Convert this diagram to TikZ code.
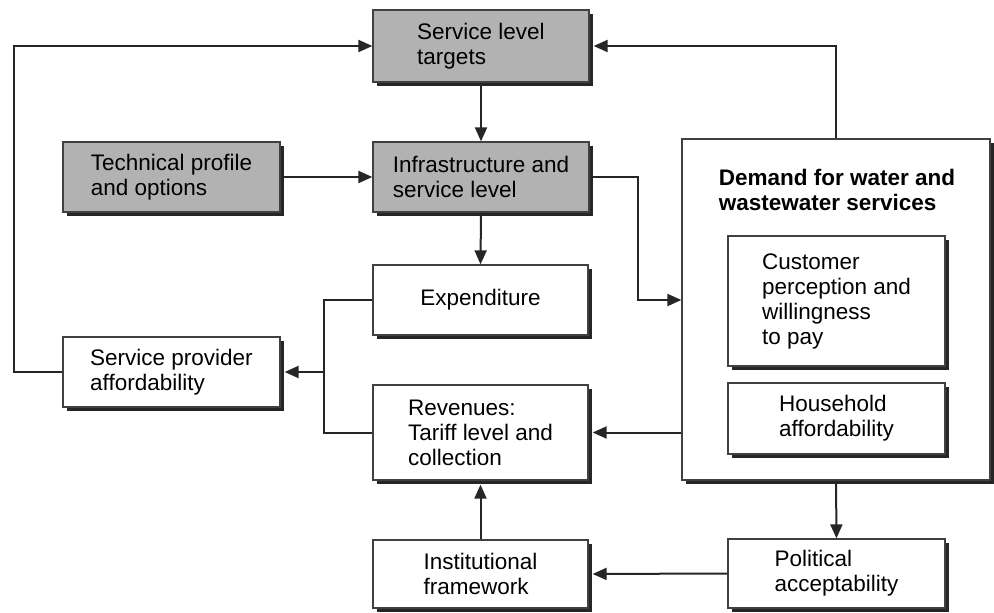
\documentclass[tikz,border=0pt]{standalone}
\usepackage{fontspec}
\setmainfont{Liberation Sans}
\usetikzlibrary{shadows,arrows.meta,calc}
\tikzset{
  box/.style={draw=black!75, line width=1.3pt, fill=white, align=left, inner sep=0pt,
    font=\fontsize{22.5}{25}\selectfont,
    copy shadow={shadow xshift=4pt, shadow yshift=-4pt, fill=black!85, draw=none}},
  graybox/.style={box, fill=black!30},
  conn/.style={draw=black!85, line width=2pt},
  arr/.style={conn, -{Triangle[length=14pt,width=12pt]}},
}
\begin{document}
\begin{tikzpicture}[x=1pt,y=-1pt]
\useasboundingbox[fill=white] (0,0) rectangle (994,613);
% grey boxes
\node[graybox, minimum width=216pt, minimum height=72pt] (targets) at (481,46) {Service level\\targets};
\node[graybox, minimum width=217pt, minimum height=70pt] (tech) at (171.5,177) {Technical profile\\and options};
\node[graybox, minimum width=216pt, minimum height=70pt] (infra) at (481,177) {Infrastructure and\\service level};
% white boxes
\node[box, minimum width=215pt, minimum height=70pt] (exp) at (480.5,300) {Expenditure};
\node[box, minimum width=217pt, minimum height=70pt] (spa) at (171.5,372) {Service provider\\affordability};
\node[box, minimum width=215pt, minimum height=95pt] (rev) at (480.5,432.5) {Revenues:\\Tariff level and\\collection};
\node[box, minimum width=215pt, minimum height=68pt] (inst) at (480.5,574) {Institutional\\framework};
% demand group
\node[box, minimum width=308pt, minimum height=341pt] (demand) at (836,309.5) {};
\node[align=left, inner sep=0pt, font=\fontsize{22.5}{25}\selectfont\bfseries] (dtitle) at (837,190) {Demand for water and\\wastewater services};
\node[box, minimum width=217pt, minimum height=130pt] (cust) at (836.5,301) {Customer\\perception and\\willingness\\to pay};
\node[box, minimum width=217pt, minimum height=71pt] (house) at (836.5,418.5) {Household\\affordability};
\node[box, minimum width=217pt, minimum height=69pt] (pol) at (836.5,573.5) {Political\\acceptability};
% connectors
\draw[arr] (spa.west) -- ++(-48,0) |- (targets.west);
\draw[arr, shorten >=4pt] (demand.north) |- (targets.east);
\draw[arr] (targets.south) -- (infra.north);
\draw[arr] (tech.east) -- (infra.west);
\draw[arr] (infra.east) -- ++(48,0) |- (demand.west |- exp.west);
\draw[arr] (infra.south) -- (exp.north);
\draw[conn] (exp.west) -- ++(-48,0) coordinate (jt) |- (rev.west);
\draw[arr, shorten >=4pt] (jt |- spa.east) -- (spa.east);
\draw[arr, shorten >=4pt] (demand.west |- rev.east) -- (rev.east);
\draw[arr] (demand.south) -- (pol.north);
\draw[arr, shorten >=4pt] (pol.west) -- (inst.east);
\draw[arr, shorten >=4pt] (inst.north) -- (rev.south);
\end{tikzpicture}
\end{document}
